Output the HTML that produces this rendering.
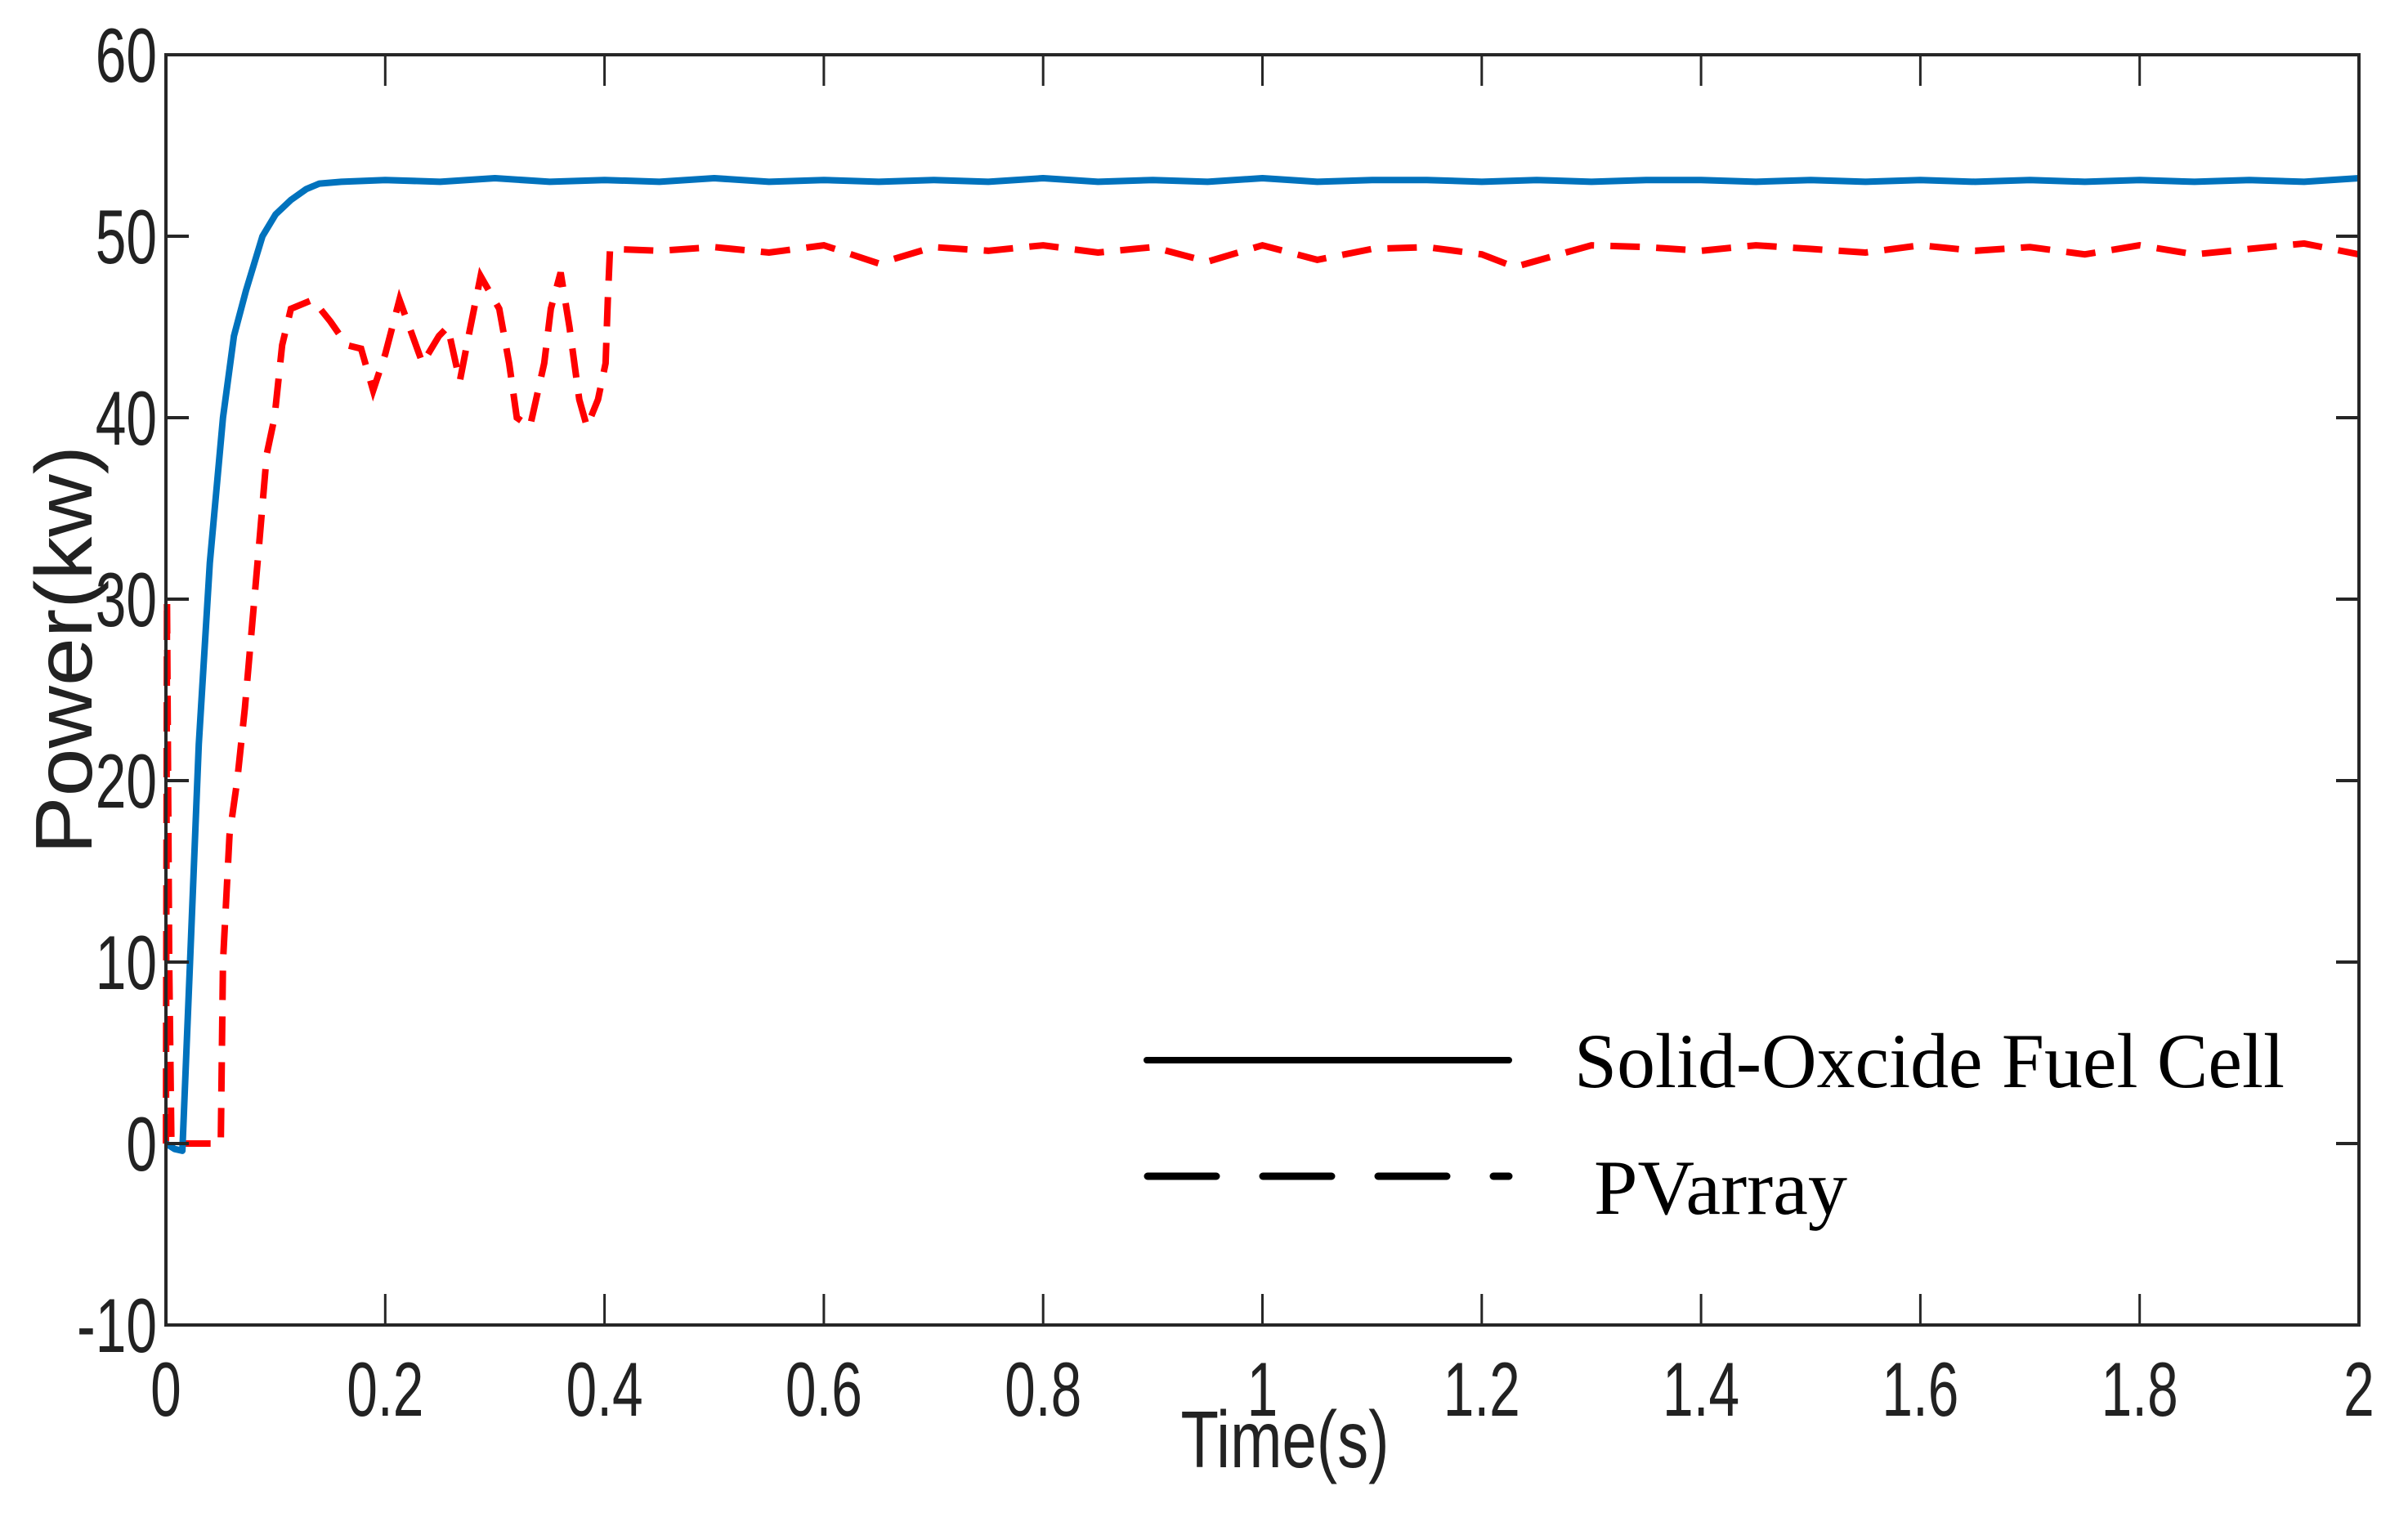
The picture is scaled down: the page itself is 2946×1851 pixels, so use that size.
<!DOCTYPE html>
<html><head><meta charset="utf-8"><style>
html,body{margin:0;padding:0;background:#fff;}
svg{display:block;}
</style></head><body>
<svg id="chart" width="2946" height="1851" xmlns="http://www.w3.org/2000/svg">
<rect width="2946" height="1851" fill="#fff"/>
<g id="grid"></g>
<g id="series"></g>
<g id="axes"></g>
<g>
 <line x1="1403" y1="1297" x2="1846" y2="1297" stroke="#000" stroke-width="8" stroke-linecap="round"/>
 <text x="1926" y="1330" font-family="Liberation Serif, serif" font-size="95" textLength="869" lengthAdjust="spacingAndGlyphs">Solid-Oxcide Fuel Cell</text>
 <line x1="1404" y1="1439" x2="1846" y2="1439" stroke="#000" stroke-width="9" stroke-linecap="round" stroke-dasharray="84 57"/>
 <text x="1950" y="1485" font-family="Liberation Serif, serif" font-size="95" textLength="310" lengthAdjust="spacingAndGlyphs">PVarray</text>
</g>
<text transform="translate(112,795) rotate(-90)" text-anchor="middle" font-family="Liberation Sans, sans-serif" font-size="98" fill="#222" textLength="500" lengthAdjust="spacingAndGlyphs">Power(kw)</text>
<text x="1572" y="1795" text-anchor="middle" font-family="Liberation Sans, sans-serif" font-size="98" fill="#222" textLength="255" lengthAdjust="spacingAndGlyphs">Time(s)</text>
</svg>
<script>
const xTicks = [0,0.2,0.4,0.6,0.8,1,1.2,1.4,1.6,1.8,2];
const xTickLabels = ["0","0.2","0.4","0.6","0.8","1","1.2","1.4","1.6","1.8","2"];
const yTicks = [-10,0,10,20,30,40,50,60];
const yTickLabels = ["-10","0","10","20","30","40","50","60"];
const sofcT = [0,0.008,0.015,0.022,0.03,0.04,0.052,0.062,0.073,0.088,0.1,0.114,0.128,0.14,0.16,0.2,0.25,0.3,0.35,0.4,0.45,0.5,0.55,0.6,0.65,0.7,0.75,0.8,0.85,0.9,0.95,1,1.05,1.1,1.15,1.2,1.25,1.3,1.35,1.4,1.45,1.5,1.55,1.6,1.65,1.7,1.75,1.8,1.85,1.9,1.95,2];
const sofcP = [0,-0.3,-0.4,10,22,32,40,44.5,47,50,51.2,52,52.6,52.9,53,53.1,53.0,53.2,53.0,53.1,53.0,53.2,53.0,53.1,53.0,53.1,53.0,53.2,53.0,53.1,53.0,53.2,53.0,53.1,53.1,53.0,53.1,53.0,53.1,53.1,53.0,53.1,53.0,53.1,53.0,53.1,53.0,53.1,53.0,53.1,53.0,53.2];
const pvT = [0,0.001,0.003,0.005,0.02,0.04,0.05,0.052,0.058,0.065,0.072,0.085,0.092,0.099,0.106,0.114,0.134,0.15,0.165,0.178,0.189,0.2,0.213,0.219,0.234,0.249,0.257,0.268,0.276,0.287,0.304,0.313,0.32,0.332,0.345,0.351,0.36,0.368,0.377,0.384,0.394,0.401,0.403,0.405,0.45,0.5,0.55,0.6,0.65,0.7,0.75,0.8,0.85,0.9,0.95,1,1.05,1.1,1.15,1.2,1.23,1.3,1.35,1.4,1.45,1.5,1.55,1.6,1.65,1.7,1.75,1.8,1.85,1.9,1.95,2];
const pvP = [0,30,10,0,0,0,0,10,17,20,24,33,38,40,44,46,46.5,45.3,44,43.8,41.5,43.5,46.5,45.5,43,44.5,45,42,44.5,47.8,46,43,40,39.5,43,46,48,45,41,39.5,41,43,46.5,49.3,49.2,49.4,49.1,49.5,48.5,49.4,49.2,49.5,49.1,49.4,48.6,49.5,48.7,49.3,49.4,49.0,48.3,49.5,49.4,49.2,49.5,49.3,49.1,49.5,49.2,49.4,49.0,49.5,49.0,49.3,49.6,49.0];

const L=203,R=2886,T=67,B=1621;
const xs=t=>L+(t-0)/(2-0)*(R-L);
const ys=v=>T+(60-v)/(60-(-10))*(B-T);
const NS="http://www.w3.org/2000/svg";
function mk(tag,attrs,parent){const e=document.createElementNS(NS,tag);for(const k in attrs)e.setAttribute(k,attrs[k]);parent.appendChild(e);return e;}
const axes=document.getElementById('axes'), series=document.getElementById('series');

function path(T_,P_){return T_.map((t,i)=>(i?'L':'M')+xs(t).toFixed(1)+','+ys(P_[i]).toFixed(1)).join(' ');}
const pv=mk('path',{d:path(pvT,pvP),fill:'none',stroke:'#ff0000','stroke-width':8,'stroke-dasharray':'36 20'},series);


const sofc=mk('path',{d:path(sofcT,sofcP),fill:'none',stroke:'#0072bd','stroke-width':8,'stroke-linejoin':'round'},series);



const box=mk('rect',{x:L,y:T,width:R-L,height:B-T,fill:'none',stroke:'#262626','stroke-width':4},axes);


xTicks.forEach((t,i)=>{
  const x=xs(t);
  const tk=mk('path',{d:`M${x},${B}V${B-38}M${x},${T}V${T+38}`,stroke:'#262626','stroke-width':3},axes);
  
  
  const tx=mk('text',{x:x,y:1732,'text-anchor':'middle','font-family':'Liberation Sans, sans-serif','font-size':94,fill:'#222',transform:`translate(${x},0) scale(0.72,1) translate(${-x},0)`},axes);
  tx.textContent=xTickLabels[i];
  
  
});
yTicks.forEach((v,i)=>{
  const y=ys(v);
  const tk=mk('path',{d:`M${L},${y}H${L+28}M${R},${y}H${R-28}`,stroke:'#262626','stroke-width':4},axes);
  
  
  const tx=mk('text',{x:192,y:y+33,'text-anchor':'end','font-family':'Liberation Sans, sans-serif','font-size':94,fill:'#222',transform:`translate(192,0) scale(0.72,1) translate(-192,0)`},axes);
  tx.textContent=yTickLabels[i];
  
  
});
</script>
</body></html>
